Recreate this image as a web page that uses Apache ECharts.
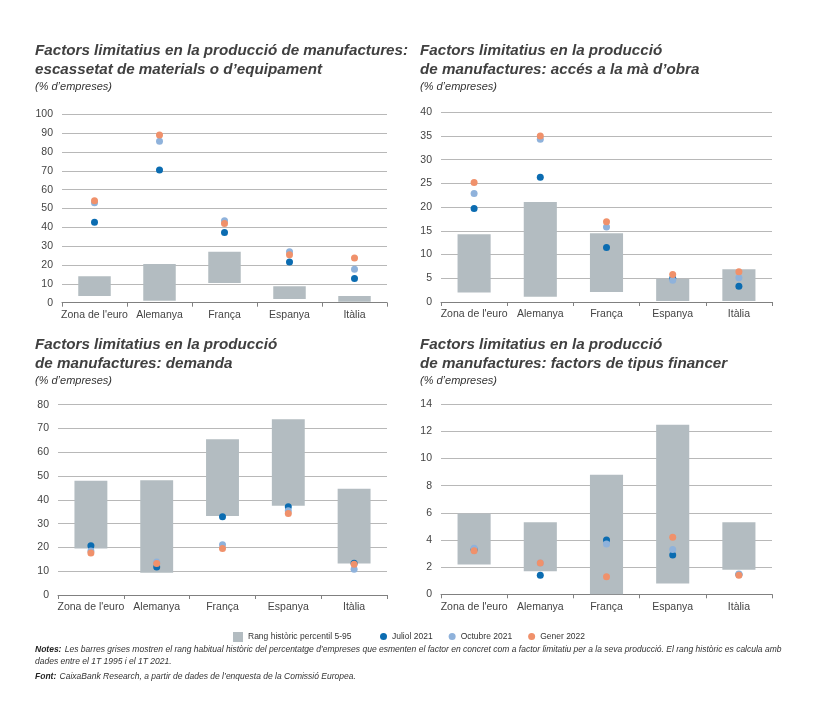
<!DOCTYPE html>
<html>
<head>
<meta charset="utf-8">
<script src="https://cdn.jsdelivr.net/npm/echarts@6/dist/echarts.min.js"></script>
<style>
html,body{margin:0;padding:0;background:#fff;}
#c{width:814px;height:706px;}
</style>
</head>
<body>
<div id="c"></div>
<script>
const categories = ["Zona de l'euro", 'Alemanya', 'França', 'Espanya', 'Itàlia'];

// Panel 1: escassetat de materials o d'equipament
const matLow  = [3.5, 1.0, 10.5, 2.0, 0.5];
const matHigh = [14.0, 20.5, 27.0, 8.7, 3.5];
const matJul  = [42.7, 70.4, 37.3, 21.6, 12.8];
const matOct  = [53.1, 85.7, 43.5, 27.1, 17.8];
const matGen  = [54.1, 89.0, 42.1, 25.4, 23.7];

// Panel 2: accés a la mà d'obra
const labLow  = [2.0, 1.1, 2.1, 0.2, 0.2];
const labHigh = [14.3, 21.1, 14.5, 4.9, 6.9];
const labJul  = [19.7, 26.3, 11.5, 5.0, 3.3];
const labOct  = [22.9, 34.3, 15.8, 4.6, 5.1];
const labGen  = [25.2, 35.0, 16.9, 5.8, 6.4];

// Panel 3: demanda
const demLow  = [19.5, 9.4, 33.2, 37.5, 13.2];
const demHigh = [48.0, 48.2, 65.5, 73.9, 44.7];
const demJul  = [20.7, 11.8, 32.9, 37.1, 13.3];
const demOct  = [18.5, 13.9, 21.1, 35.4, 10.8];
const demGen  = [17.7, 13.2, 19.6, 34.3, 12.9];

// Panel 4: factors de tipus financer
const finLow  = [2.2, 1.7, 0.0, 0.8, 1.8];
const finHigh = [5.95, 5.3, 8.8, 12.5, 5.3];
const finJul  = [3.3, 1.4, 4.0, 2.9, 1.45];
const finOct  = [3.4, 2.3, 3.7, 3.3, 1.5];
const finGen  = [3.2, 2.3, 1.3, 4.2, 1.4];

const yMax = [100, 40, 80, 14];
const yInterval = [10, 5, 10, 2];

const NAME_RANGE = 'Rang històric percentil 5-95';
const NAME_JUL = 'Juliol 2021';
const NAME_OCT = 'Octubre 2021';
const NAME_GEN = 'Gener 2022';

const C_BAR = '#b3bcc1';
const C_JUL = '#0b6cb1';
const C_OCT = '#8fb2db';
const C_GEN = '#f0916b';

const panels = [
  {low: matLow, high: matHigh, jul: matJul, oct: matOct, gen: matGen},
  {low: labLow, high: labHigh, jul: labJul, oct: labOct, gen: labGen},
  {low: demLow, high: demHigh, jul: demJul, oct: demOct, gen: demGen},
  {low: finLow, high: finHigh, jul: finJul, oct: finOct, gen: finGen}
];

const grids = [
  {left: 62, top: 114.3, width: 325, height: 188.4},
  {left: 441, top: 112.3, width: 331, height: 189.7},
  {left: 58, top: 404.7, width: 329, height: 190.3},
  {left: 441, top: 404.3, width: 331, height: 190}
];

const FONT = "'Liberation Sans', sans-serif";
const AXFONT = "'Liberation Sans', sans-serif";

const xAxes = [], yAxes = [], series = [];
panels.forEach((p, i) => {
  xAxes.push({
    type: 'category', gridIndex: i, data: categories,
    axisLine: {lineStyle: {color: '#808080', width: 1}},
    axisTick: {show: true, length: 4, lineStyle: {color: '#808080'}},
    axisLabel: {color: '#444', fontSize: 10.5, fontFamily: AXFONT, margin: 7, interval: 0}
  });
  yAxes.push({
    type: 'value', gridIndex: i, min: 0, max: yMax[i], interval: yInterval[i],
    axisLine: {show: false}, axisTick: {show: false},
    axisLabel: {color: '#444', fontSize: 10.5, fontFamily: AXFONT, margin: 9},
    splitLine: {lineStyle: {color: '#b8b8b8', width: 1}}
  });
  series.push({
    type: 'bar', name: '_base' + i, xAxisIndex: i, yAxisIndex: i, stack: 's' + i,
    barWidth: '50%', itemStyle: {color: 'transparent'}, silent: true,
    data: p.low
  });
  series.push({
    type: 'bar', name: NAME_RANGE, xAxisIndex: i, yAxisIndex: i, stack: 's' + i,
    barWidth: '50%', itemStyle: {color: C_BAR},
    data: p.high.map((h, k) => +(h - p.low[k]).toFixed(3))
  });
  [[NAME_JUL, p.jul, C_JUL], [NAME_OCT, p.oct, C_OCT], [NAME_GEN, p.gen, C_GEN]].forEach(([n, d, c]) => {
    series.push({
      type: 'scatter', name: n, xAxisIndex: i, yAxisIndex: i,
      symbol: 'circle', symbolSize: 7, itemStyle: {color: c, opacity: 1},
      data: d
    });
  });
});

function txt(x, y, text, size, weight, style, color) {
  return {type: 'text', x: x, y: y, style: {
    text: text, fontSize: size, fontWeight: weight, fontStyle: style,
    fontFamily: FONT, fill: color, textVerticalAlign: 'middle'
  }};
}

const TC = '#404040';
const TS = 15.2;
const SS = 11;
const NS = 8.5;
const graphics = [
  txt(35, 51, 'Factors limitatius en la producció de manufactures:', TS, 'bold', 'italic', TC),
  txt(35, 69.5, 'escassetat de materials o d’equipament', TS, 'bold', 'italic', TC),
  txt(35, 87, '(% d’empreses)', SS, 'normal', 'italic', '#333'),
  txt(420, 51, 'Factors limitatius en la producció', TS, 'bold', 'italic', TC),
  txt(420, 69.5, 'de manufactures: accés a la mà d’obra', TS, 'bold', 'italic', TC),
  txt(420, 87, '(% d’empreses)', SS, 'normal', 'italic', '#333'),
  txt(35, 345, 'Factors limitatius en la producció', TS, 'bold', 'italic', TC),
  txt(35, 363.5, 'de manufactures: demanda', TS, 'bold', 'italic', TC),
  txt(35, 381, '(% d’empreses)', SS, 'normal', 'italic', '#333'),
  txt(420, 345, 'Factors limitatius en la producció', TS, 'bold', 'italic', TC),
  txt(420, 363.5, 'de manufactures: factors de tipus financer', TS, 'bold', 'italic', TC),
  txt(420, 381, '(% d’empreses)', SS, 'normal', 'italic', '#333'),
  {type: 'text', x: 35, y: 650, style: {
    text: '{b|Notes:} {r|Les barres grises mostren el rang habitual històric del percentatge d’empreses que esmenten el factor en concret com a factor limitatiu per a la seva producció. El rang històric es calcula amb}',
    textVerticalAlign: 'middle',
    rich: {
      b: {fontSize: NS, fontWeight: 'bold', fontStyle: 'italic', fontFamily: FONT, fill: '#222'},
      r: {fontSize: NS, fontStyle: 'italic', fontFamily: FONT, fill: '#333'}
    }
  }},
  {type: 'text', x: 35, y: 662, style: {
    text: 'dades entre el 1T 1995 i el 1T 2021.', textVerticalAlign: 'middle',
    fontSize: NS, fontStyle: 'italic', fontFamily: FONT, fill: '#333'
  }},
  {type: 'text', x: 35, y: 677, style: {
    text: '{b|Font:} {r|CaixaBank Research, a partir de dades de l’enquesta de la Comissió Europea.}',
    textVerticalAlign: 'middle',
    rich: {
      b: {fontSize: NS, fontWeight: 'bold', fontStyle: 'italic', fontFamily: FONT, fill: '#222'},
      r: {fontSize: NS, fontStyle: 'italic', fontFamily: FONT, fill: '#333'}
    }
  }}
];

const chart = echarts.init(document.getElementById('c'), null, {renderer: 'canvas'});
chart.setOption({
  backgroundColor: '#fff',
  animation: false,
  grid: grids,
  xAxis: xAxes,
  yAxis: yAxes,
  legend: [
    {data: [{name: NAME_RANGE, icon: 'rect'}], left: 228, top: 627, itemWidth: 10, itemHeight: 10, itemGap: 5,
     textStyle: {fontSize: 8.5, color: '#333', fontFamily: FONT}, selectedMode: false},
    {data: [{name: NAME_JUL, icon: 'circle'}, {name: NAME_OCT, icon: 'circle'}, {name: NAME_GEN, icon: 'circle'}],
     left: 375, top: 627, itemWidth: 7, itemHeight: 10, itemGap: 16,
     textStyle: {fontSize: 8.5, color: '#333', fontFamily: FONT}, selectedMode: false}
  ],
  graphic: graphics,
  series: series
});
</script>
</body>
</html>
